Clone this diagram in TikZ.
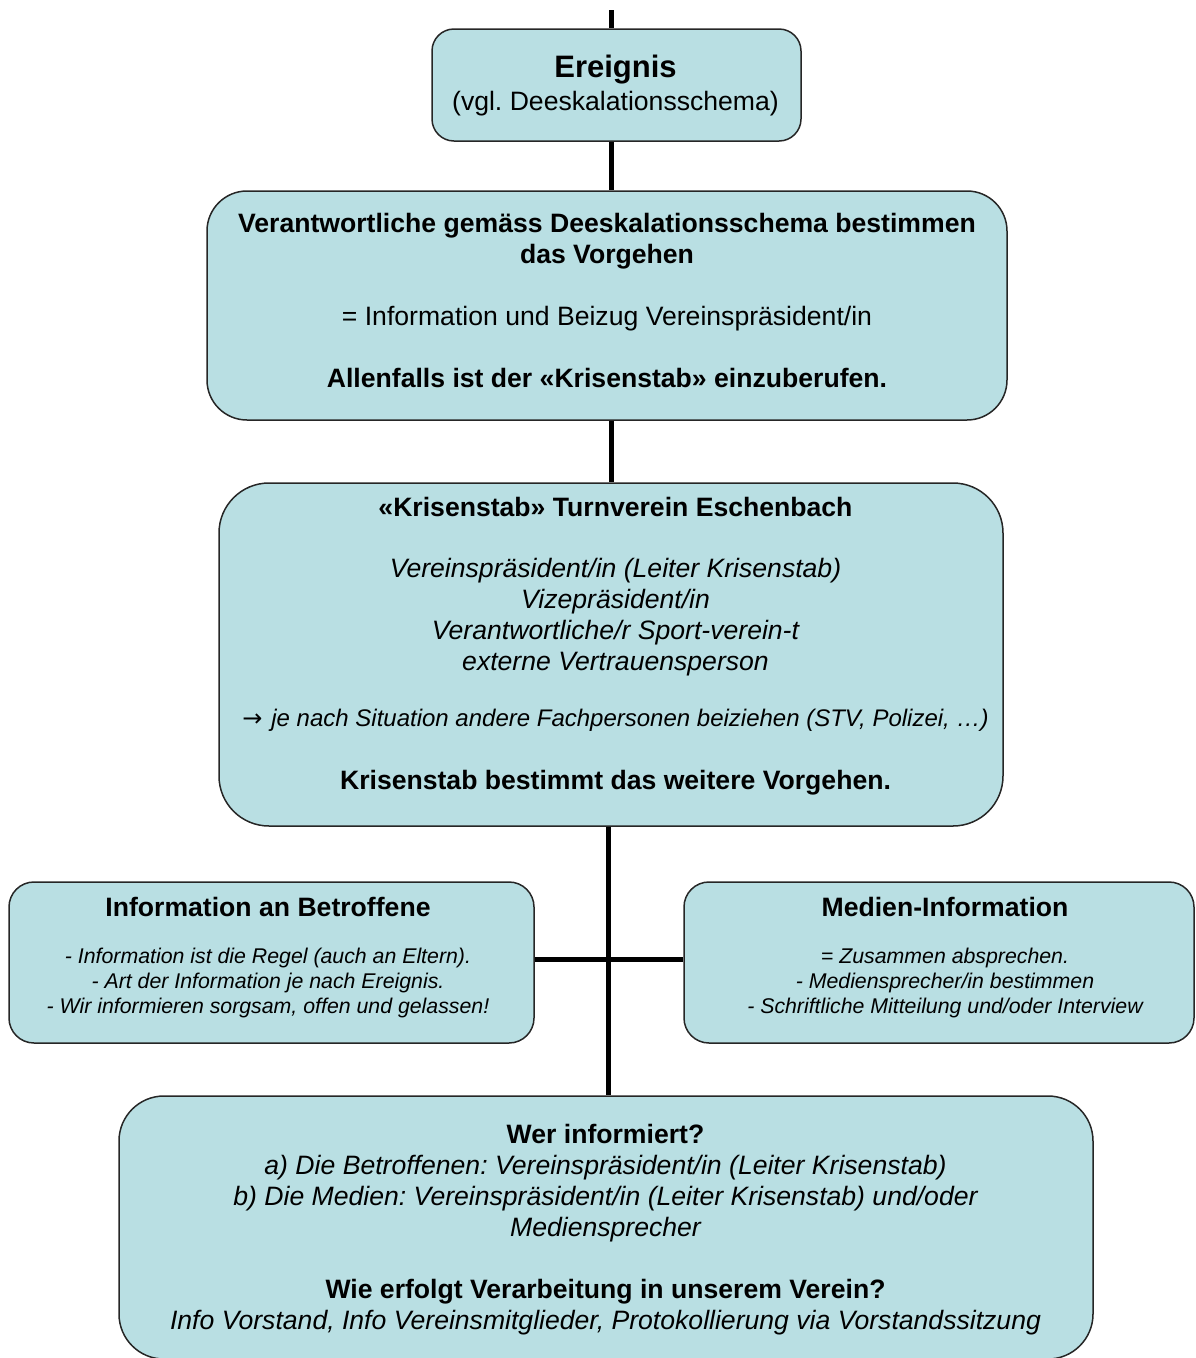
\documentclass[tikz,border=0pt]{standalone}
\usepackage{fontspec}
\setmainfont{Liberation Sans}
\newfontfamily\arrowfont{DejaVu Sans}
\definecolor{boxfill}{RGB}{185,223,227}
\begin{document}
\frenchspacing
\begin{tikzpicture}[x=1pt,y=-1pt,
  box/.style={draw=black!85, line width=1.5pt, fill=boxfill, rounded corners=#1, inner sep=0pt},
  box/.default=25pt,
  spine/.style={line width=5pt, black},
  txt/.style={align=center, inner sep=0pt, font=\fontsize{26.6}{31}\selectfont\frenchspacing},
  small/.style={align=center, inner sep=0pt, font=\fontsize{21.3}{25}\selectfont\frenchspacing},
]
\useasboundingbox (0,0) rectangle (1195,1358);

% boxes
\node[box=22pt, minimum width=369pt, minimum height=112pt] (ev) at (616.5,85) {};
\node[box=40pt, minimum width=800pt, minimum height=229pt] (resp) at (607,305.5) {};
\node[box=50pt, minimum width=784pt, minimum height=343pt] (ks) at (611,654.5) {};
\node[box=25pt, minimum width=525pt, minimum height=161pt] (inf) at (271.5,962.5) {};
\node[box=25pt, minimum width=510pt, minimum height=161pt] (med) at (939,962.5) {};
\node[box=45pt, minimum width=974pt, minimum height=263pt] (who) at (606,1227.5) {};

% connectors
\coordinate (top) at (611,10);
\coordinate (sp) at (608,959);
\draw[spine] (top) -- (top |- ev.north);
\draw[spine] (ev.south -| top) -- (resp.north -| top);
\draw[spine] (resp.south -| top) -- (ks.north -| top);
\draw[spine] (ks.south -| sp) -- (who.north -| sp);
\draw[spine] (inf.east |- sp) -- (med.west |- sp);

% texts
\node[txt] (evt) at (615.5,86) {{\fontsize{31}{36}\selectfont\bfseries Ereignis}\\[2pt](vgl. Deeskalationsschema)};

\node[txt] (respt) at (607,300.5) {\bfseries Verantwortliche gemäss Deeskalationsschema bestimmen\\
\bfseries das Vorgehen\\[31pt]
= Information und Beizug Vereinspräsident/in\\[31pt]
\bfseries Allenfalls ist der «Krisenstab» einzuberufen.};

\node[txt] (kst) at (615.5,646.5) {\bfseries «Krisenstab» Turnverein Eschenbach\\[29.5pt]
\itshape Vereinspräsident/in (Leiter Krisenstab)\\
\itshape Vizepräsident/in\\
\itshape Verantwortliche/r Sport-verein-t\\
\itshape externe Vertrauensperson\\[25pt]
{\fontsize{24}{30.5}\selectfont{\arrowfont →}\hspace{9pt}\itshape je nach Situation andere Fachpersonen beiziehen (STV, Polizei, …)}\\[32.5pt]
\bfseries Krisenstab bestimmt das weitere Vorgehen.};

\node[small] (inft) at (268,958) {{\fontsize{26.6}{31}\selectfont\bfseries Information an Betroffene}\\[22pt]
\itshape - Information ist die Regel (auch an Eltern).\\
\itshape - Art der Information je nach Ereignis.\\
\itshape - Wir informieren sorgsam, offen und gelassen!};

\node[small] (medt) at (945,958) {{\fontsize{26.6}{31}\selectfont\bfseries Medien-Information}\\[22pt]
\itshape = Zusammen absprechen.\\
\itshape - Mediensprecher/in bestimmen\\
\itshape - Schriftliche Mitteilung und/oder Interview};

\node[txt] (whot) at (605.5,1229.5) {\bfseries Wer informiert?\\
\itshape a) Die Betroffenen: Vereinspräsident/in (Leiter Krisenstab)\\
\itshape b) Die Medien: Vereinspräsident/in (Leiter Krisenstab) und/oder\\
\itshape Mediensprecher\\[31pt]
\bfseries Wie erfolgt Verarbeitung in unserem Verein?\\
\itshape Info Vorstand, Info Vereinsmitglieder, Protokollierung via Vorstandssitzung};
\end{tikzpicture}
\end{document}
